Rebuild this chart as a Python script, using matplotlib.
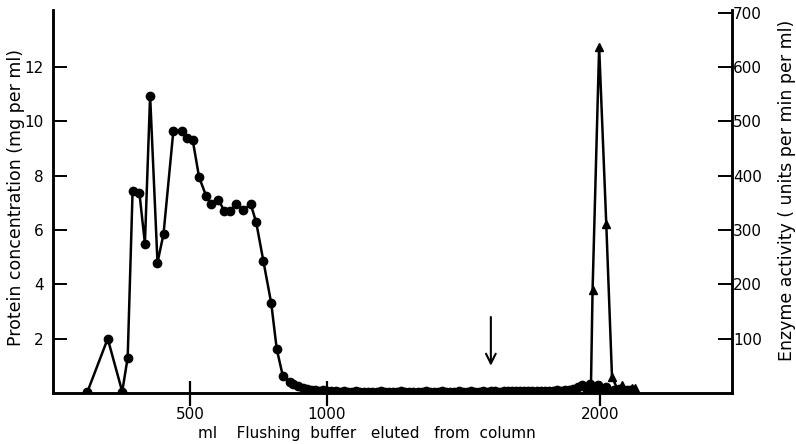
import matplotlib
matplotlib.use("Agg")
import matplotlib.pyplot as plt

plt.rcParams['font.family'] = ['DejaVu Sans']

# Protein concentration (mg per ml) vs ml eluted
protein_ml = [125, 199, 252, 272, 290, 315, 335, 354, 381, 403, 439, 470, 488, 510,
              533, 559, 576, 604, 625, 647, 668, 695, 722, 742, 768, 797, 817, 839,
              864, 878, 896, 912, 927, 942, 957, 972, 987,
              1002, 1017, 1032, 1047, 1062, 1077, 1092, 1107, 1122, 1137, 1152, 1167,
              1182, 1197, 1212, 1227, 1242, 1257, 1272, 1287, 1302, 1317, 1332, 1347,
              1362, 1377, 1392, 1407, 1422, 1437, 1452, 1467, 1482, 1497, 1512, 1527,
              1542, 1557, 1572, 1587, 1602, 1617, 1632, 1647, 1662, 1677, 1692, 1707,
              1722, 1737, 1752, 1767, 1782, 1797, 1812, 1827, 1842, 1857, 1872, 1887,
              1902, 1917, 1932, 1947, 1962, 1977, 1992, 2007, 2022, 2037, 2052, 2067,
              2082, 2097, 2110]
protein = [0.05, 2.0, 0.05, 1.3, 7.45, 7.35, 5.5, 10.95, 4.8, 5.85, 9.65, 9.65, 9.4, 9.3,
           7.95, 7.25, 6.97, 7.12, 6.7, 6.7, 6.95, 6.75, 6.95, 6.28, 4.87, 3.3, 1.62, 0.64,
           0.42, 0.34, 0.25, 0.19, 0.14, 0.12, 0.1, 0.09, 0.1,
           0.08, 0.07, 0.06, 0.05, 0.06, 0.05, 0.05, 0.06, 0.05, 0.05, 0.04, 0.05,
           0.05, 0.06, 0.05, 0.04, 0.05, 0.05, 0.06, 0.05, 0.05, 0.04, 0.05, 0.05,
           0.06, 0.05, 0.05, 0.05, 0.06, 0.05, 0.04, 0.05, 0.06, 0.05, 0.05, 0.06,
           0.05, 0.05, 0.06, 0.05, 0.06, 0.06, 0.05, 0.06, 0.07, 0.06, 0.06, 0.07,
           0.06, 0.07, 0.08, 0.07, 0.08, 0.08, 0.09, 0.08, 0.1, 0.09, 0.1, 0.12,
           0.15, 0.22, 0.3, 0.2, 0.33, 0.18, 0.28, 0.12, 0.22, 0.0, 0.1, 0.15,
           0.1, 0.12, 0.1]

# Enzyme activity (units per min per ml)
enzyme_ml = [1880, 1905, 1930, 1950, 1966, 1972, 1996, 2022, 2043, 2062, 2080, 2098, 2115, 2128]
enzyme = [3, 8, 14, 6, 10, 190, 637, 312, 30, 8, 14, 6, 10, 9]

x_ticks = [500, 1000, 2000]
left_ticks = [2, 4, 6, 8, 10, 12]
right_ticks = [100, 200, 300, 400, 500, 600, 700]
arrow_ml = 1600

fig = plt.figure(figsize=(7.96, 4.44), dpi=100)
ax = fig.add_axes([53.3/796, 51/444, (731.5-53.3)/796, (393-10)/444])
ax2 = ax.twinx()

ax.plot(protein_ml, protein, '-', color='black', lw=1.8, marker='o', ms=6,
        mfc='black', mec='black', zorder=3)
ax2.plot(enzyme_ml, enzyme, '-', color='black', lw=1.8, marker='^', ms=6,
         mfc='black', mec='black', zorder=3)

ax.set_xlim(0, 2480)
ax.set_ylim(0, 14.1)
ax2.set_ylim(0, 705)

ax.set_xticks(x_ticks)
ax.set_xticklabels([str(t) for t in x_ticks])
ax.set_yticks(left_ticks)
ax.set_yticklabels([str(t) for t in left_ticks])
ax2.set_yticks(right_ticks)
ax2.set_yticklabels([str(t) for t in right_ticks])

for a in (ax, ax2):
    a.spines['top'].set_visible(False)
    for s in a.spines.values():
        s.set_linewidth(1.8)

ax.tick_params(axis='y', direction='in', length=10, width=1.4, pad=7, labelsize=11)
ax.tick_params(axis='x', direction='inout', length=18, width=1.6, pad=1, labelsize=11)
ax2.tick_params(axis='y', direction='in', length=10, width=1.4, pad=1, labelsize=11)

ax.set_xlabel('ml    Flushing  buffer   eluted   from  column', fontsize=11, va='center')
ax.xaxis.set_label_coords((367 - 53.3) / 678.2, -(433 - 393) / 383, transform=ax.transAxes)
ax.set_ylabel('Protein concentration (mg per ml)', fontsize=12.5, va='center')
ax.yaxis.set_label_coords(-(53.3 - 16) / 678.2, (393 - 198) / 383, transform=ax.transAxes)
ax2.set_ylabel('Enzyme activity ( units per min per ml)', fontsize=12.5, va='center')
ax2.yaxis.set_label_coords((787 - 53.3) / 678.2, (393 - 190) / 383, transform=ax.transAxes)

ax.annotate('', xy=(arrow_ml, 0.9), xytext=(arrow_ml, 2.9),
            arrowprops=dict(arrowstyle='->,head_length=0.7,head_width=0.35', lw=1.5, color='black'))

fig.savefig('out.png', dpi=100)
